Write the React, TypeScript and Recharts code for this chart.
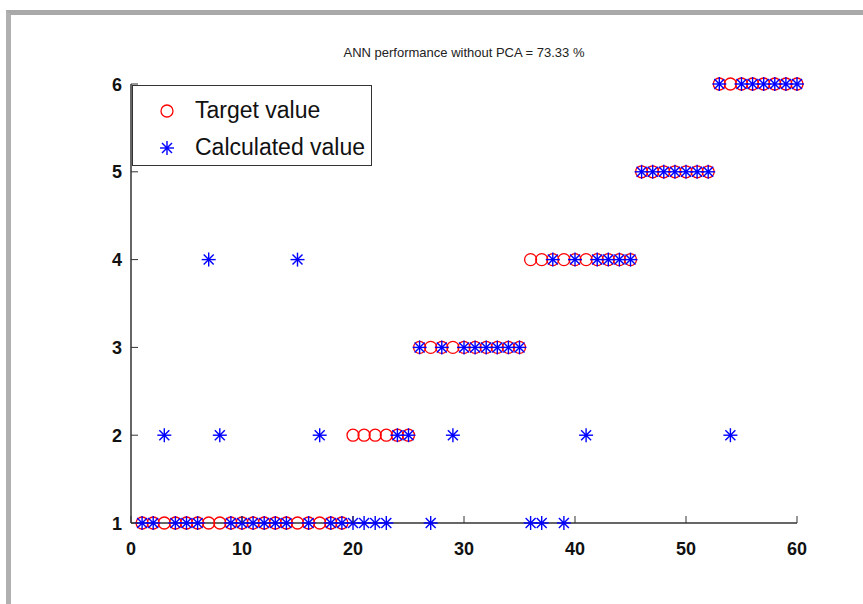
import { ScatterChart, Scatter, XAxis, YAxis } from 'recharts';

// sample index (1..60) along the x axis
const sampleIdx = [
  1, 2, 3, 4, 5, 6, 7, 8, 9, 10,
  11, 12, 13, 14, 15, 16, 17, 18, 19, 20,
  21, 22, 23, 24, 25, 26, 27, 28, 29, 30,
  31, 32, 33, 34, 35, 36, 37, 38, 39, 40,
  41, 42, 43, 44, 45, 46, 47, 48, 49, 50,
  51, 52, 53, 54, 55, 56, 57, 58, 59, 60,
];

const targetValues = [
  1, 1, 1, 1, 1, 1, 1, 1, 1, 1,
  1, 1, 1, 1, 1, 1, 1, 1, 1, 2,
  2, 2, 2, 2, 2, 3, 3, 3, 3, 3,
  3, 3, 3, 3, 3, 4, 4, 4, 4, 4,
  4, 4, 4, 4, 4, 5, 5, 5, 5, 5,
  5, 5, 6, 6, 6, 6, 6, 6, 6, 6,
];

const calculatedValues = [
  1, 1, 2, 1, 1, 1, 4, 2, 1, 1,
  1, 1, 1, 1, 4, 1, 2, 1, 1, 1,
  1, 1, 1, 2, 2, 3, 1, 3, 2, 3,
  3, 3, 3, 3, 3, 1, 1, 4, 1, 4,
  2, 4, 4, 4, 4, 5, 5, 5, 5, 5,
  5, 5, 6, 2, 6, 6, 6, 6, 6, 6,
];

const xTicks = [0, 10, 20, 30, 40, 50, 60];
const yTicks = [1, 2, 3, 4, 5, 6];

const targetData = sampleIdx.map((x, i) => ({ x, y: targetValues[i] }));
const calcData = sampleIdx.map((x, i) => ({ x, y: calculatedValues[i] }));

const RED = '#ff0000';
const BLUE = '#0000ff';
const AXIS = '#333333';
const FONT = '"Liberation Sans", Arial, sans-serif';

function CircleMark({ cx, cy }: any) {
  return <circle cx={cx} cy={cy} r={6} fill="none" stroke={RED} strokeWidth={1.3} />;
}

function StarMark({ cx, cy }: any) {
  const r = 7;
  const d = 5;
  return (
    <g stroke={BLUE} strokeWidth={1.4}>
      <line x1={cx - r} y1={cy} x2={cx + r} y2={cy} />
      <line x1={cx} y1={cy - r} x2={cx} y2={cy + r} />
      <line x1={cx - d} y1={cy - d} x2={cx + d} y2={cy + d} />
      <line x1={cx - d} y1={cy + d} x2={cx + d} y2={cy - d} />
      <circle cx={cx} cy={cy} r={1.6} fill={BLUE} stroke="none" />
    </g>
  );
}

// inward tick marks, matlab style
function BottomTick({ x, y, payload }: any) {
  return (
    <g>
      <line x1={x} y1={y} x2={x} y2={y - 7} stroke={AXIS} />
      <text x={x} y={y + 32} textAnchor="middle" fontSize={18} fontWeight="bold" fontFamily={FONT} fill="#111">
        {payload.value}
      </text>
    </g>
  );
}

function LeftTick({ x, y, payload }: any) {
  return (
    <g>
      <line x1={x} y1={y} x2={x + 7} y2={y} stroke={AXIS} />
      <text x={x - 9} y={y + 6.5} textAnchor="end" fontSize={18} fontWeight="bold" fontFamily={FONT} fill="#111">
        {payload.value}
      </text>
    </g>
  );
}

function TopTick({ x, y }: any) {
  return <line x1={x} y1={y} x2={x} y2={y + 7} stroke={AXIS} />;
}

function RightTick({ x, y }: any) {
  return <line x1={x} y1={y} x2={x - 7} y2={y} stroke={AXIS} />;
}

export default function App() {
  return (
    <div style={{ position: 'absolute', left: 0, top: 0, width: 863, height: 604, background: '#fff', overflow: 'hidden' }}>
      <div
        style={{
          position: 'absolute',
          left: 6,
          top: 10,
          width: 863,
          height: 604,
          borderTop: '5px solid #a9a9a9',
          borderLeft: '5px solid #b0b0b0',
        }}
      />
      <div
        style={{
          position: 'absolute',
          left: 131,
          width: 666,
          top: 45,
          textAlign: 'center',
          fontFamily: FONT,
          fontSize: 13,
          color: '#222',
        }}
      >
        ANN performance without PCA = 73.33 %
      </div>
      <div style={{ position: 'absolute', left: 0, top: 0 }}>
        <ScatterChart width={863} height={604} margin={{ top: 84, right: 66, bottom: 41, left: 91 }}>
          <XAxis
            dataKey="x"
            type="number"
            domain={[0, 60]}
            ticks={xTicks}
            interval={0}
            tickLine={false}
            tickSize={0}
            tickMargin={0}
            height={40}
            axisLine={{ stroke: AXIS, strokeWidth: 1.5 }}
            tick={BottomTick}
          />
          <XAxis
            xAxisId="top"
            orientation="top"
            type="number"
            domain={[0, 60]}
            ticks={xTicks}
            interval={0}
            tickLine={false}
            tickSize={0}
            tickMargin={0}
            height={0}
            axisLine={{ stroke: AXIS, strokeWidth: 1.5 }}
            tick={TopTick}
          />
          <YAxis
            dataKey="y"
            type="number"
            domain={[1, 6]}
            ticks={yTicks}
            interval={0}
            tickLine={false}
            tickSize={0}
            tickMargin={0}
            width={40}
            axisLine={{ stroke: AXIS, strokeWidth: 1.5 }}
            tick={LeftTick}
          />
          <YAxis
            yAxisId="right"
            orientation="right"
            type="number"
            domain={[1, 6]}
            ticks={yTicks}
            interval={0}
            tickLine={false}
            tickSize={0}
            tickMargin={0}
            width={0}
            axisLine={{ stroke: AXIS, strokeWidth: 1.5 }}
            tick={RightTick}
          />
          <Scatter data={targetData} shape={CircleMark} isAnimationActive={false} />
          <Scatter data={calcData} shape={StarMark} isAnimationActive={false} />
        </ScatterChart>
      </div>
      <div
        style={{
          position: 'absolute',
          left: 132,
          top: 85,
          width: 238,
          height: 79,
          border: '1.5px solid #333',
          background: '#fff',
          fontFamily: FONT,
          fontSize: 23,
          color: '#111',
        }}
      >
        <div style={{ position: 'absolute', left: 22, top: 11, display: 'flex', alignItems: 'center' }}>
          <svg width={24} height={24}>
            <circle cx={12} cy={12} r={6} fill="none" stroke={RED} strokeWidth={1.3} />
          </svg>
          <span style={{ marginLeft: 16 }}>Target value</span>
        </div>
        <div style={{ position: 'absolute', left: 22, top: 48, display: 'flex', alignItems: 'center' }}>
          <svg width={24} height={24}>
            <StarMark cx={12} cy={12} />
          </svg>
          <span style={{ marginLeft: 16 }}>Calculated value</span>
        </div>
      </div>
    </div>
  );
}
